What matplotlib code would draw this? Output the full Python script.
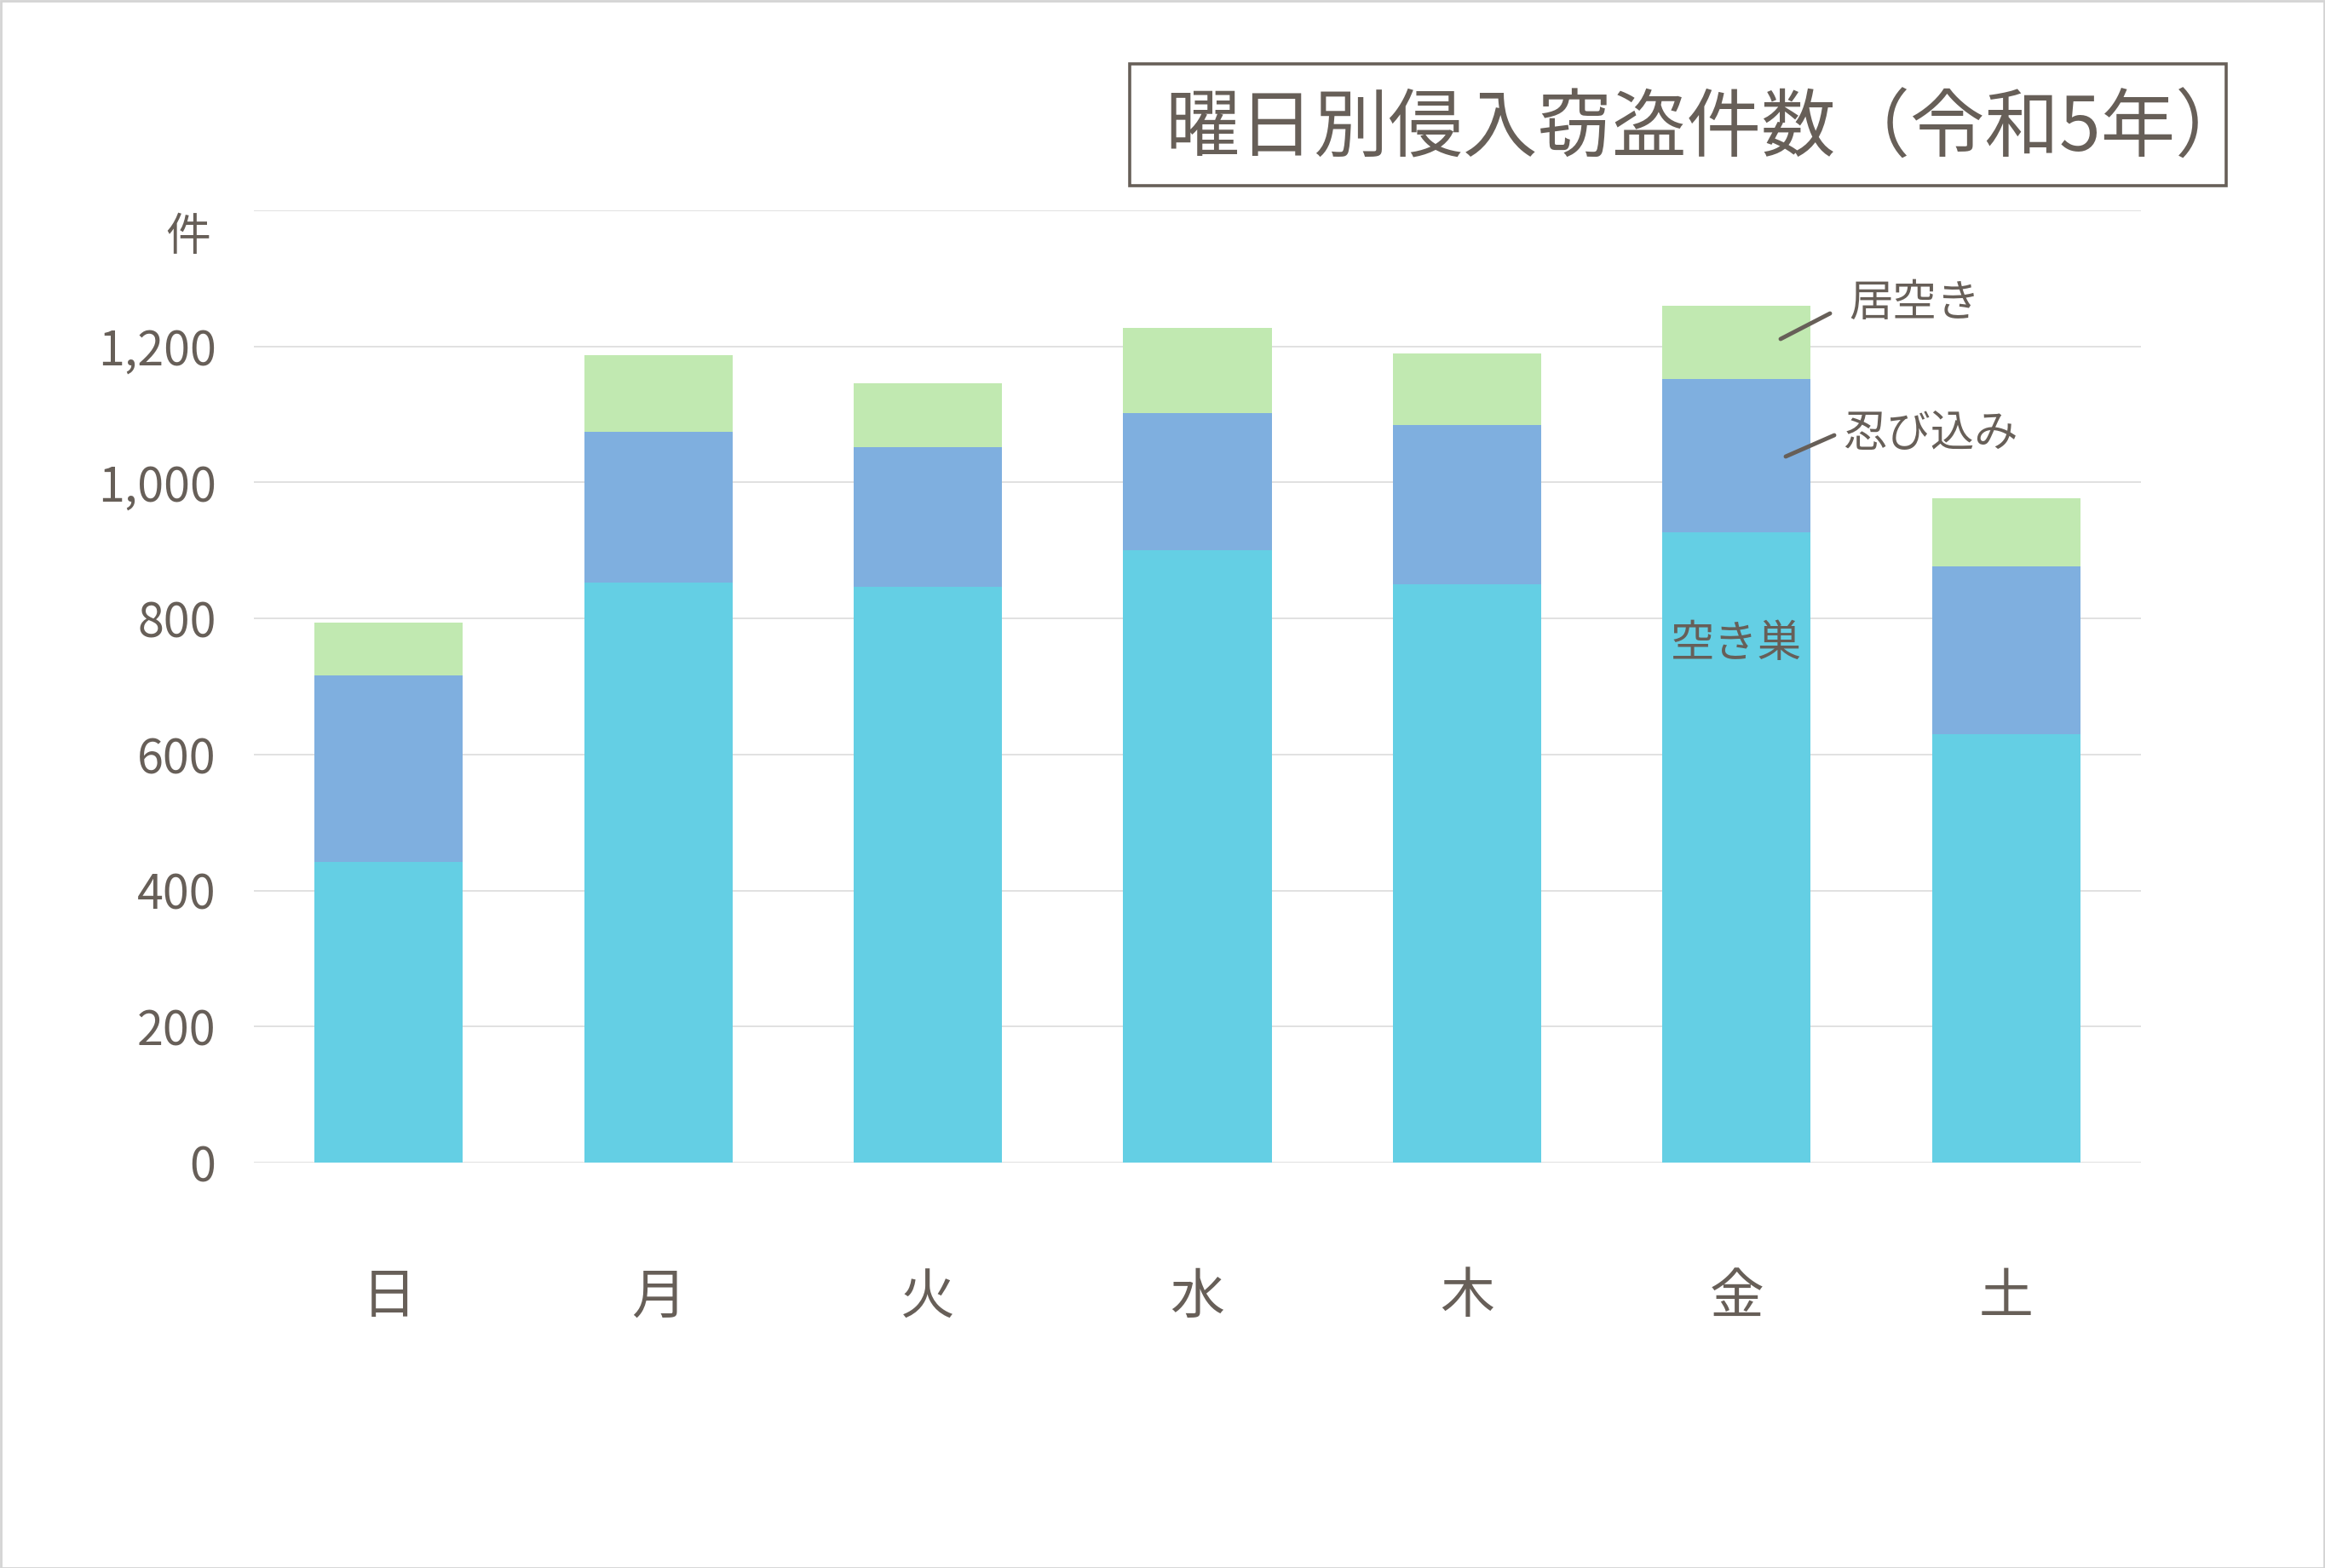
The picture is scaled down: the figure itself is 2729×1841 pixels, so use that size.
import matplotlib
matplotlib.use("Agg")
import matplotlib.pyplot as plt
from matplotlib.patches import Rectangle
from matplotlib.lines import Line2D

plt.rcParams['font.family'] = ['Noto Sans CJK JP', 'DejaVu Sans']

days = ['日', '月', '火', '水', '木', '金', '土']
akisu = [442, 853, 847, 900, 850, 927, 630]       # 空き巣
shinobikomi = [274, 221, 205, 202, 234, 225, 247]  # 忍び込み
iaki = [78, 113, 94, 125, 105, 108, 100]           # 居空き
yticks = [0, 200, 400, 600, 800, 1000, 1200, 1400]
ytick_labels = ['0', '200', '400', '600', '800', '1,000', '1,200', '']

title = '曜日別侵入窃盗件数（令和5年）'
text_color = '#675f58'
c_akisu = '#64cfe4'
c_shinobi = '#7fafdf'
c_iaki = '#c1e9b1'

W, H = 2729, 1841
fig = plt.figure(figsize=(W / 100, H / 100), dpi=100)
fig.patch.set_facecolor('white')

ax = fig.add_axes([298 / W, 1 - 1365 / H, (2513 - 298) / W, (1365 - 247) / H])
x = list(range(len(days)))
bw = 0.55
bottom2 = akisu
bottom3 = [a + b for a, b in zip(akisu, shinobikomi)]
ax.bar(x, akisu, bw, color=c_akisu, zorder=3)
ax.bar(x, shinobikomi, bw, bottom=bottom2, color=c_shinobi, zorder=3)
ax.bar(x, iaki, bw, bottom=bottom3, color=c_iaki, zorder=3)

ax.set_xlim(-0.5, 6.5)
ax.set_ylim(0, 1400)
ax.set_yticks(yticks)
ax.set_yticklabels(ytick_labels)
ax.yaxis.grid(True, color='#dedede', linewidth=1.3, zorder=0)
ax.set_axisbelow(True)
for s in ax.spines.values():
    s.set_visible(False)
ax.tick_params(axis='y', length=0, pad=32, labelsize=40, labelcolor=text_color)
ax.set_xticks(x)
ax.set_xticklabels(days)
ax.tick_params(axis='x', length=0, pad=90, labelsize=46, labelcolor=text_color)

# unit label
fig.text(221 / W, 1 - 278 / H, '件', fontsize=38, color=text_color, ha='center', va='center')

# title box
fig.add_artist(Rectangle((1326 / W, 1 - 218 / H), (2613 - 1326) / W, (218 - 75) / H,
                         transform=fig.transFigure, fill=False, edgecolor=text_color, linewidth=2.6))
fig.text((1326 + 2613) / 2 / W + 35 / W, 1 - 153 / H, title, fontsize=63, color=text_color,
         ha='center', va='center')

# series labels
fig.text(2170 / W, 1 - 356 / H, '居空き', fontsize=37, color=text_color, ha='left', va='center')
fig.add_artist(Line2D([2090 / W, 2148 / W], [1 - 398 / H, 1 - 368 / H], transform=fig.transFigure,
                      color=text_color, linewidth=3.5, solid_capstyle='round'))
fig.text(2163 / W, 1 - 509 / H, '忍び込み', fontsize=37, color=text_color, ha='left', va='center')
fig.add_artist(Line2D([2096 / W, 2153 / W], [1 - 536 / H, 1 - 511 / H], transform=fig.transFigure,
                      color=text_color, linewidth=3.5, solid_capstyle='round'))
ax.text(5, 762, '空き巣', fontsize=37, color=text_color, ha='center', va='center', zorder=5)

# figure border
fig.add_artist(Rectangle((0.5 / W, 0.5 / H), 1 - 1.5 / W, 1 - 1.5 / H, transform=fig.transFigure,
                         fill=False, edgecolor='#d4d4d4', linewidth=2))

fig.savefig('out.png', dpi=100, facecolor='white')
